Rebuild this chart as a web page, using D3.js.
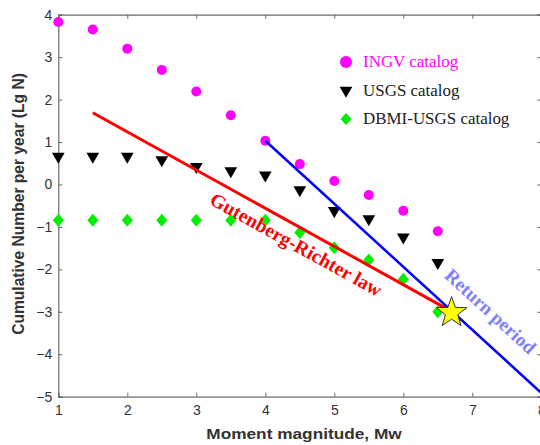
<!DOCTYPE html>
<html>
<head>
<meta charset="utf-8">
<script src="https://d3js.org/d3.v7.min.js"></script>
<style>
  body { margin: 0; background: #fff; }
  svg { display: block; }
</style>
</head>
<body>
<div id="cont"></div>
<script>
// magnitudes (Mw)
var mags = [1, 1.5, 2, 2.5, 3, 3.5, 4, 4.5, 5, 5.5, 6, 6.5];
// log10 cumulative number per year
var ingv = [3.83, 3.65, 3.2, 2.7, 2.19, 1.63, 1.03, 0.48, 0.08, -0.25, -0.62, -1.1];
var usgs = [0.66, 0.66, 0.66, 0.58, 0.42, 0.32, 0.22, -0.13, -0.62, -0.81, -1.24, -1.84];
var dbmi = [-0.84, -0.84, -0.84, -0.84, -0.84, -0.84, -0.84, -1.13, -1.49, -1.78, -2.23, -3.0];
var grLine = [[1.5, 1.69], [6.6, -2.9]];
var returnLine = [[4, 1.03], [8, -4.91]];
var star = [6.7, -3.02];
var xTicks = [1, 2, 3, 4, 5, 6, 7, 8];
var yTicks = [-5, -4, -3, -2, -1, 0, 1, 2, 3, 4];
var legendItems = ["INGV catalog", "USGS catalog", "DBMI-USGS catalog"];

var W = 540, H = 445;
var svg = d3.select("#cont").append("svg")
    .attr("width", W)
    .attr("height", H);

var x = d3.scaleLinear().domain([1, 8]).range([58.3, 541.3]);
var y = d3.scaleLinear().domain([-5, 4]).range([396.7, 14.7]);

var axisColor = "#6b6b6b";
var textColor = "#333";
var sans = "Arial, 'Liberation Sans', sans-serif";
var serif = "'Times New Roman', 'Liberation Serif', serif";

// box + ticks
var gx = svg.append("g").attr("transform", "translate(0," + y(-5) + ")")
    .call(d3.axisBottom(x).tickValues(xTicks).tickSize(-4).tickPadding(8).tickFormat(d3.format("d")));
var gxt = svg.append("g").attr("transform", "translate(0," + y(4) + ")")
    .call(d3.axisTop(x).tickValues(xTicks).tickSize(-4).tickFormat(""));
var gy = svg.append("g").attr("transform", "translate(" + x(1) + ",0)")
    .call(d3.axisLeft(y).tickValues(yTicks).tickSize(-4).tickPadding(6)
        .tickFormat(function (d) { return d < 0 ? "\u2212" + Math.abs(d) : d; }));
var gyr = svg.append("g").attr("transform", "translate(" + x(8) + ",0)")
    .call(d3.axisRight(y).tickValues(yTicks).tickSize(-4).tickFormat(""));

[gx, gxt, gy, gyr].forEach(function (g) {
    g.selectAll("path").attr("stroke", axisColor).attr("stroke-width", 1.2);
    g.selectAll("line").attr("stroke", axisColor);
    g.selectAll("text").attr("fill", textColor)
        .style("font-family", sans)
        .style("font-size", "14px");
});

// axis labels (source picture is stretched sideways a little)
svg.append("text")
    .attr("transform", "translate(304,439) scale(1.15,1)")
    .attr("text-anchor", "middle")
    .style("font-family", sans)
    .style("font-weight", "bold").style("font-size", "15px")
    .attr("fill", textColor)
    .text("Moment magnitude, Mw");

svg.append("text")
    .attr("transform", "translate(24,204) rotate(-90)")
    .attr("text-anchor", "middle")
    .style("font-family", sans)
    .style("font-weight", "bold").style("font-size", "15.6px")
    .attr("fill", textColor)
    .text("Cumulative Number per year (Lg N)");

var lineGen = d3.line()
    .x(function (d) { return x(d[0]); })
    .y(function (d) { return y(d[1]); });

// markers
var diamond = function (w, h) {
    return "M0," + (-h) + "L" + w + ",0L0," + h + "L" + (-w) + ",0Z";
};
var triDown = d3.symbol().type(d3.symbolTriangle).size(70);

svg.append("g").selectAll("circle")
    .data(mags.map(function (m, i) { return [m, ingv[i]]; }))
    .enter().append("circle")
    .attr("cx", function (d) { return x(d[0]); })
    .attr("cy", function (d) { return y(d[1]); })
    .attr("r", 5)
    .attr("fill", "#ff00ff");

svg.append("g").selectAll("path")
    .data(mags.map(function (m, i) { return [m, usgs[i]]; }))
    .enter().append("path")
    .attr("d", triDown)
    .attr("transform", function (d) {
        return "translate(" + x(d[0]) + "," + y(d[1]) + ") rotate(180)";
    })
    .attr("fill", "#000");

svg.append("g").selectAll("path")
    .data(mags.map(function (m, i) { return [m, dbmi[i]]; }))
    .enter().append("path")
    .attr("d", diamond(5.5, 6.5))
    .attr("transform", function (d) {
        return "translate(" + x(d[0]) + "," + y(d[1]) + ")";
    })
    .attr("fill", "#00ee00");

// fitted lines
svg.append("path").datum(grLine)
    .attr("d", lineGen)
    .attr("fill", "none").attr("stroke", "#ff0000").attr("stroke-width", 3);

svg.append("path").datum(returnLine)
    .attr("d", lineGen)
    .attr("fill", "none").attr("stroke", "#0000ff").attr("stroke-width", 2.5);

// star
var starPts = d3.range(10).map(function (i) {
    var r = i % 2 === 0 ? 16 : 6.5;
    var a = -Math.PI / 2 + i * Math.PI / 5;
    return [r * Math.cos(a), r * Math.sin(a)];
});
svg.append("path")
    .attr("d", "M" + starPts.join("L") + "Z")
    .attr("transform", "translate(" + x(star[0]) + "," + y(star[1]) + ")")
    .attr("fill", "#ffff00")
    .attr("stroke", "#333")
    .attr("stroke-width", 1);

// line annotations (angle follows the on-screen slope)
function angleOf(seg) {
    var dx = x(seg[1][0]) - x(seg[0][0]);
    var dy = y(seg[1][1]) - y(seg[0][1]);
    return Math.atan2(dy, dx) * 180 / Math.PI;
}

svg.append("text")
    .attr("transform", "translate(" + x(4.4) + "," + y(-1.55) + ") rotate(" + angleOf(grLine) + ")")
    .attr("text-anchor", "middle")
    .style("font-family", serif)
    .style("font-weight", "bold").style("font-size", "19.5px")
    .attr("fill", "#ff0000")
    .text("Gutenberg-Richter law");

svg.append("text")
    .attr("transform", "translate(" + x(7.2) + "," + y(-3.1) + ") rotate(" + angleOf(returnLine) + ")")
    .attr("text-anchor", "middle")
    .style("font-family", serif)
    .style("font-weight", "bold").style("font-size", "19px")
    .attr("fill", "#7f7fff")
    .text("Return period");

// legend
var legend = svg.append("g").attr("transform", "translate(346,62)");
var legColors = ["#ff00ff", "#222", "#222"];
legendItems.forEach(function (name, i) {
    var g = legend.append("g").attr("transform", "translate(0," + (i * 28.5) + ")");
    if (i === 0) {
        g.append("circle").attr("r", 6).attr("fill", "#ff00ff");
    } else if (i === 1) {
        g.append("path").attr("d", triDown).attr("transform", "rotate(180)").attr("fill", "#000");
    } else {
        g.append("path").attr("d", diamond(5.5, 6)).attr("fill", "#00ee00");
    }
    g.append("text")
        .attr("transform", "translate(17,5) scale(1.06,1)")
        .style("font-family", serif)
        .style("font-size", "16px")
        .attr("fill", legColors[i])
        .text(name);
});
</script>
</body>
</html>
